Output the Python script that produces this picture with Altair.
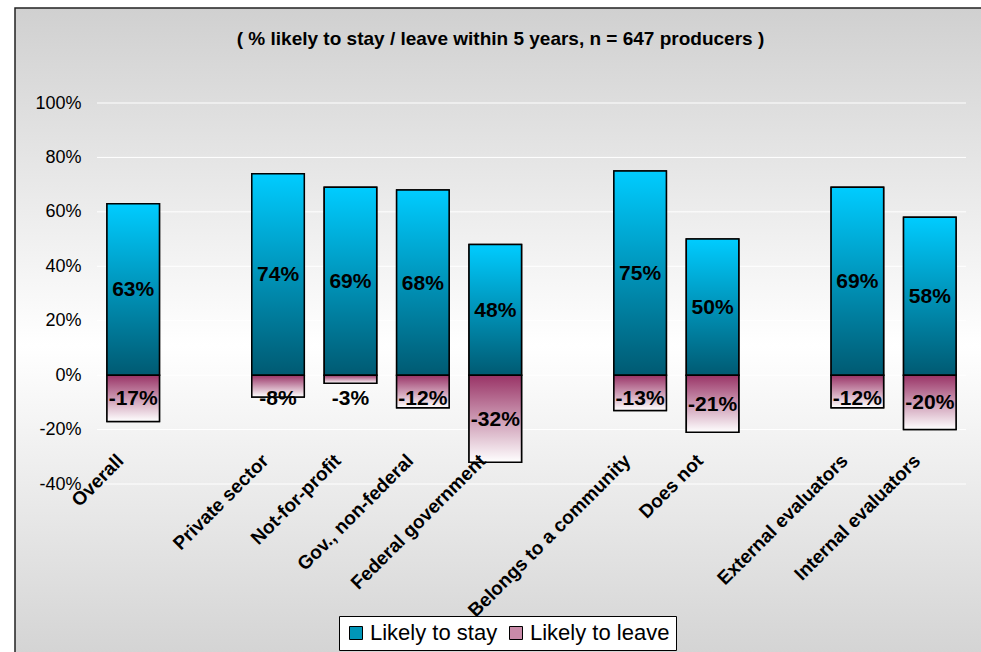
import altair as alt
import pandas as pd

# ---------------- data ----------------
categories = ["Overall", "Private sector", "Not-for-profit", "Gov., non-federal",
              "Federal government", "Belongs to a community", "Does not",
              "External evaluators", "Internal evaluators"]
axis_slots = ["Overall", "gap1", "Private sector", "Not-for-profit", "Gov., non-federal",
              "Federal government", "gap2", "Belongs to a community", "Does not", "gap3",
              "External evaluators", "Internal evaluators"]
stay = [0.63, 0.74, 0.69, 0.68, 0.48, 0.75, 0.50, 0.69, 0.58]
leave = [-0.17, -0.08, -0.03, -0.12, -0.32, -0.13, -0.21, -0.12, -0.20]
series = ["Likely to stay", "Likely to leave"]
y_ticks = [-0.4, -0.2, 0.0, 0.2, 0.4, 0.6, 0.8, 1.0]
title_text = "( % likely to stay / leave within 5 years, n = 647 producers )"

rows = []
for c, s, l in zip(categories, stay, leave):
    rows.append({"category": c, "series": series[0], "value": s})
    rows.append({"category": c, "series": series[1], "value": l})
df = pd.DataFrame(rows)
grid_df = pd.DataFrame({"v": y_ticks})

# ---------------- style ----------------
FONT = "Liberation Sans"
W, H = 869, 381

xscale = alt.Scale(domain=axis_slots, paddingInner=0.275, paddingOuter=0.1375)
yscale = alt.Scale(domain=[-0.4, 1.0], nice=False, zero=False)

stay_grad = alt.Gradient(gradient="linear",
                         stops=[alt.GradientStop(color="#00ccff", offset=0),
                                alt.GradientStop(color="#005a72", offset=1)],
                         x1=0, x2=0, y1=0, y2=1)
leave_grad = alt.Gradient(gradient="linear",
                          stops=[alt.GradientStop(color="#993366", offset=0),
                                 alt.GradientStop(color="#ffffff", offset=1)],
                          x1=0, x2=0, y1=0, y2=1)
bg_grad = alt.Gradient(gradient="linear",
                       stops=[alt.GradientStop(color="#d0d0d0", offset=0),
                              alt.GradientStop(color="#ffffff", offset=0.5),
                              alt.GradientStop(color="#d0d0d0", offset=1)],
                       x1=0, x2=0, y1=0, y2=1)

x_axis = alt.Axis(title=None, labelAngle=-45, labelAlign="right", labelBaseline="top",
                  labelFont=FONT, labelFontSize=19, labelFontWeight="bold", labelColor="black",
                  domain=False, ticks=False, labelPadding=-33, labelOffset=-19,
                  labelLimit=400, labelOverlap=False, grid=False, zindex=2,
                  labelExpr="indexof(datum.label, 'gap') == 0 ? '' : datum.label")
y_axis = alt.Axis(title=None, values=y_ticks, labelExpr="round(datum.value*100) + '%'",
                  labelFont=FONT, labelFontSize=18, labelColor="black",
                  domain=False, ticks=False, labelPadding=16,
                  grid=False, zindex=2, labelOverlap=False)

X = alt.X("category:N", scale=xscale, axis=x_axis)

bg = alt.Chart(alt.Data(values=[{}])).mark_rect(
    fill=bg_grad, stroke="#222222", strokeWidth=1.5
).encode(x=alt.value(-82), x2=alt.value(905), y=alt.value(-95), y2=alt.value(580))

grid = alt.Chart(grid_df).mark_rule(color="#ffffff", strokeWidth=1).encode(
    y=alt.Y("v:Q", scale=yscale, axis=y_axis), x=alt.value(0), x2=alt.value(W))

base_bars = alt.Chart(df).mark_bar(stroke="black", strokeWidth=1.5).encode(
    x=X,
    y=alt.Y("value:Q", scale=yscale, axis=y_axis),
    color=alt.Color("series:N",
                    scale=alt.Scale(domain=series, range=["#0096b8", "#c98aa8"]),
                    legend=alt.Legend(title=None, orient="none", legendX=242, legendY=513,
                                      direction="horizontal", fillColor="white",
                                      strokeColor="black", padding=6,
                                      labelFont=FONT, labelFontSize=22, labelColor="black",
                                      symbolType="square", symbolSize=169,
                                      symbolStrokeColor="black", symbolStrokeWidth=1,
                                      columnPadding=7, labelOffset=3, cornerRadius=0)),
)

stay_bars = alt.Chart(df).transform_filter(alt.datum.series == series[0]).mark_bar(
    fill=stay_grad, stroke="black", strokeWidth=1.5
).encode(x=X, y=alt.Y("value:Q", scale=yscale, axis=y_axis))

leave_bars = alt.Chart(df).transform_filter(alt.datum.series == series[1]).mark_bar(
    fill=leave_grad, stroke="black", strokeWidth=1.5
).encode(x=X, y=alt.Y("value:Q", scale=yscale, axis=y_axis))

labels = alt.Chart(df).transform_calculate(
    pos="datum.value > 0 ? datum.value / 2 : min(datum.value / 2, -0.085)",
    txt="round(datum.value * 100) + '%'"
).mark_text(font=FONT, fontSize=21, fontWeight="bold", color="black",
            baseline="middle", dy=1).encode(
    x=X,
    y=alt.Y("pos:Q", scale=yscale, axis=y_axis),
    text="txt:N")

chart = alt.layer(bg, grid, base_bars, stay_bars, leave_bars, labels).properties(
    width=W, height=H,
    padding={"left": 97, "top": 103, "right": 15, "bottom": 168},
    autosize=alt.AutoSizeParams(type="none"),
    background="white",
    title=alt.Title(title_text, font=FONT, fontSize=19, fontWeight="bold", color="black",
                    anchor="middle", dx=-31, offset=-61, baseline="bottom"),
).configure_view(stroke=None)

chart.save("out.html", embed_options={"renderer": "svg", "actions": False})
